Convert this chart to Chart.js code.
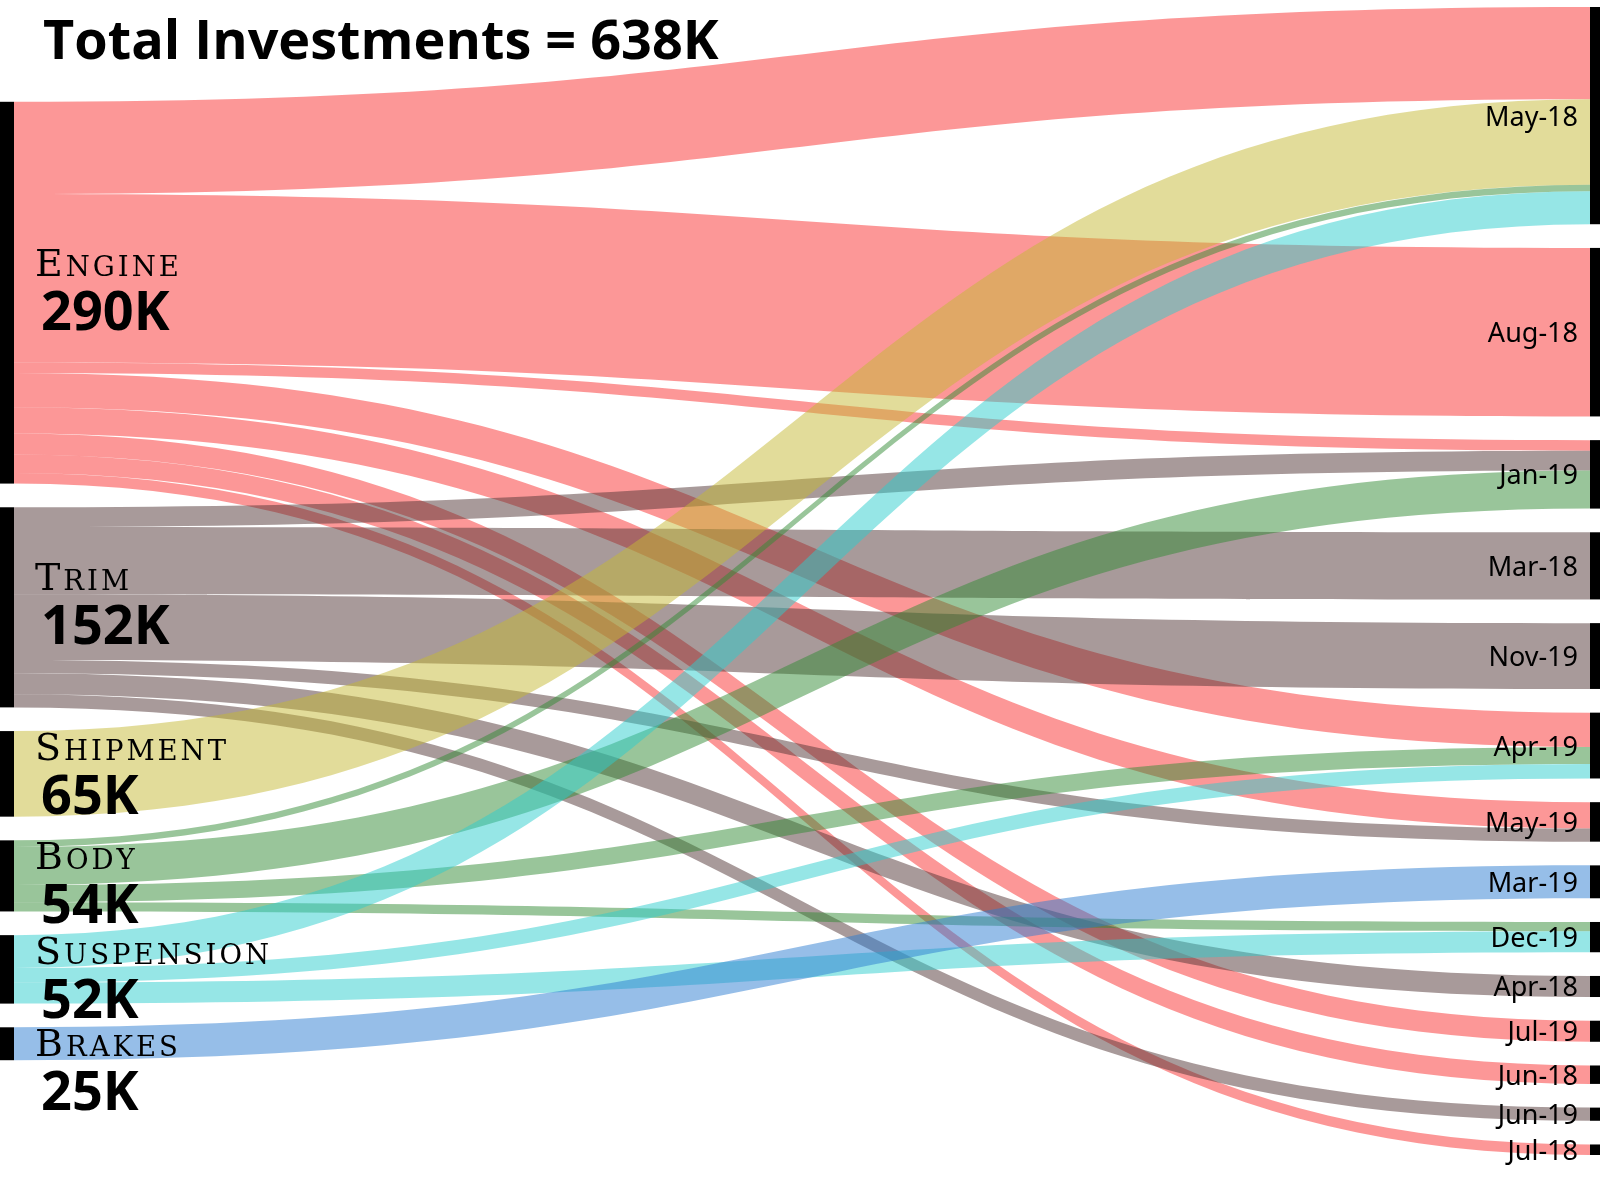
<!DOCTYPE html>
<html>
<head>
<meta charset="utf-8">
<script src="https://cdn.jsdelivr.net/npm/chart.js@4.4.0/dist/chart.umd.min.js"></script>
<style>
  html, body { margin: 0; padding: 0; background: #fff; }
  #wrap { width: 1600px; height: 1184px; }
</style>
</head>
<body>
<div id="wrap"><canvas id="sankey"></canvas></div>
<script>
const sources = ['Engine', 'Trim', 'Shipment', 'Body', 'Suspension', 'Brakes'];
const targets = ['May-18', 'Aug-18', 'Jan-19', 'Mar-18', 'Nov-19', 'Apr-19', 'May-19',
                 'Mar-19', 'Dec-19', 'Apr-18', 'Jul-19', 'Jun-18', 'Jun-19', 'Jul-18'];

// investments in K, one value per target month (same order as targets)
const engine     = [70, 128, 8, 0, 0, 26, 20, 0, 0, 0, 16, 14, 0, 8];
const trim       = [0, 0, 15, 51, 50, 0, 10, 0, 0, 16, 0, 0, 10, 0];
const shipment   = [65, 0, 0, 0, 0, 0, 0, 0, 0, 0, 0, 0, 0, 0];
const body       = [5, 0, 29, 0, 0, 13, 0, 0, 7, 0, 0, 0, 0, 0];
const suspension = [25, 0, 0, 0, 0, 11, 0, 0, 16, 0, 0, 0, 0, 0];
const brakes     = [0, 0, 0, 0, 0, 0, 0, 25, 0, 0, 0, 0, 0, 0];

const flows = [engine, trim, shipment, body, suspension, brakes];
const colors = ['#f92f2f', '#513535', '#c5b935', '#338b35', '#2dcdcd', '#2d7dd1'];
const GAP = 18;

const sum = arr => arr.reduce((a, b) => a + b, 0);
const sourceTotals = flows.map(sum);
const targetTotals = targets.map((_, j) => sum(flows.map(r => r[j])));
const total = sum(sourceTotals);
const leftSpan = total + GAP * (sources.length - 1);
const rightSpan = total + GAP * (targets.length - 1);
const SPAN = Math.max(leftSpan, rightSpan);

function stackNodes(totals, span) {
    let pos = (SPAN - span) / 2;
    return totals.map(t => {
        const n = { top: pos, bottom: pos + t };
        pos += t + GAP;
        return n;
    });
}
const leftNodes = stackNodes(sourceTotals, leftSpan);
const rightNodes = stackNodes(targetTotals, rightSpan);

// band positions: left side stacked by target order, right side by source order
const bands = [];
const rightCursor = rightNodes.map(n => n.top);
flows.forEach((row, i) => {
    let cur = leftNodes[i].top;
    row.forEach((v, j) => {
        if (!v) return;
        bands.push({ src: i, y0: cur, y1: rightCursor[j], v: v });
        cur += v;
        rightCursor[j] += v;
    });
});

function smallCaps(ctx, text, x, yBase, big, small, family, spacing) {
    ctx.font = `${big}px ${family}`;
    ctx.fillText(text[0], x, yBase);
    x += ctx.measureText(text[0]).width + spacing;
    ctx.font = `${small}px ${family}`;
    for (const ch of text.slice(1).toUpperCase()) {
        ctx.fillText(ch, x, yBase);
        x += ctx.measureText(ch).width + spacing;
    }
}

const sankeyPlugin = {
    id: 'sankey',
    beforeDatasetsDraw(chart) {
        const { ctx, scales: { x, y } } = chart;
        const xl = x.getPixelForValue(0), xr = x.getPixelForValue(1), xm = x.getPixelForValue(0.5);
        const py = v => y.getPixelForValue(v);
        ctx.save();
        ctx.globalAlpha = 0.5;
        bands.forEach(b => {
            ctx.beginPath();
            ctx.moveTo(xl, py(b.y0));
            ctx.bezierCurveTo(xm, py(b.y0), xm, py(b.y1), xr, py(b.y1));
            ctx.lineTo(xr, py(b.y1 + b.v));
            ctx.bezierCurveTo(xm, py(b.y1 + b.v), xm, py(b.y0 + b.v), xl, py(b.y0 + b.v));
            ctx.closePath();
            ctx.fillStyle = colors[b.src];
            ctx.fill();
        });
        ctx.restore();
    },
    afterDraw(chart) {
        const { ctx, chartArea, scales: { y } } = chart;
        const py = v => y.getPixelForValue(v);
        ctx.save();
        ctx.fillStyle = '#000';
        // node bars
        leftNodes.forEach(n => {
            ctx.fillRect(chartArea.left - 14, py(n.top), 14, py(n.bottom) - py(n.top));
        });
        rightNodes.forEach(n => {
            ctx.fillRect(chartArea.right, py(n.top), 10, py(n.bottom) - py(n.top));
        });

        // left labels
        ctx.textBaseline = 'alphabetic';
        ctx.textAlign = 'left';
        leftNodes.forEach((n, i) => {
            const top = py(n.top), mid = (py(n.top) + py(n.bottom)) / 2;
            const blockTop = Math.max(top + 1, mid - 45);
            smallCaps(ctx, sources[i], chartArea.left + 21, blockTop + 28, 38, 27.5, '"DejaVu Serif"', 3);
            ctx.font = 'bold 54px "Open Sans"';
            ctx.fillText(sourceTotals[i] + 'K', chartArea.left + 27, blockTop + 82);
        });

        // right labels
        ctx.textAlign = 'right';
        ctx.font = '27px "Noto Sans"';
        rightNodes.forEach((n, j) => {
            const mid = (py(n.top) + py(n.bottom)) / 2;
            ctx.fillText(targets[j], chartArea.right - 12, mid + 10);
        });

        // title
        ctx.textAlign = 'left';
        ctx.font = 'bold 54px "Open Sans"';
        ctx.fillText('Total Investments = ' + total + 'K', 43, 59);
        ctx.restore();
    }
};

new Chart(document.getElementById('sankey'), {
    type: 'scatter',
    data: { datasets: [] },
    options: {
        responsive: true,
        maintainAspectRatio: false,
        animation: false,
        layout: { padding: { left: 14, right: 10, top: 7, bottom: 29 } },
        scales: {
            x: { type: 'linear', min: 0, max: 1, display: false },
            y: { type: 'linear', min: 0, max: SPAN, reverse: true, display: false }
        },
        plugins: {
            legend: { display: false },
            tooltip: { enabled: false }
        }
    },
    plugins: [sankeyPlugin]
});
</script>
</body>
</html>
